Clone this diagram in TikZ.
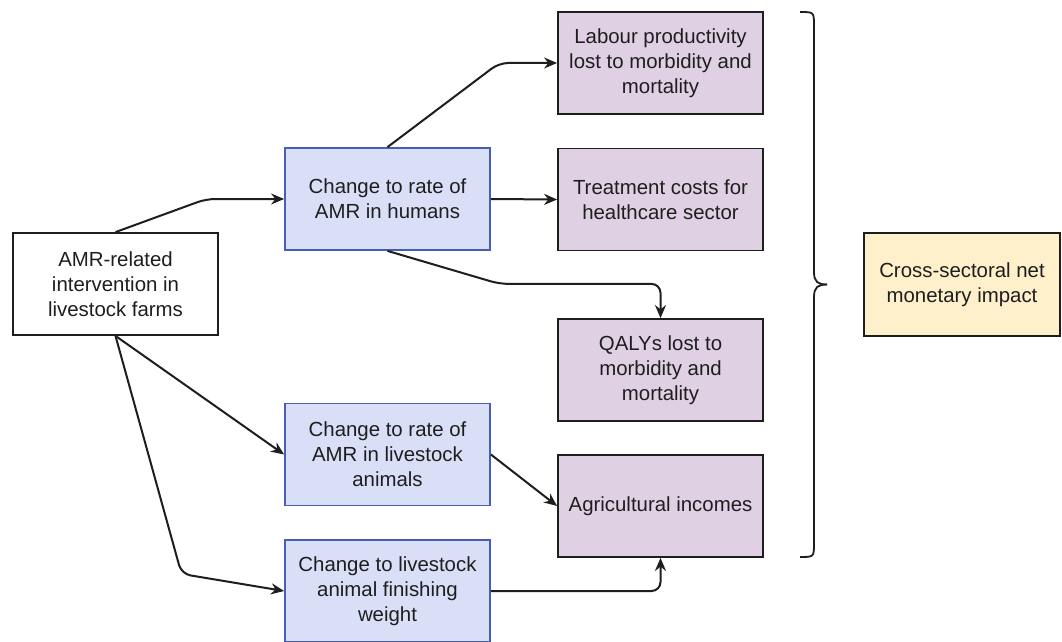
\documentclass[tikz,border=0pt]{standalone}
\usepackage{fontspec}
\setmainfont{Liberation Sans}
\usetikzlibrary{arrows.meta,calc}
\definecolor{blueFill}{RGB}{218,223,248}
\definecolor{blueLine}{RGB}{72,94,178}
\definecolor{purpleFill}{RGB}{223,208,228}
\definecolor{yellowFill}{RGB}{255,240,204}
\definecolor{inkGray}{RGB}{30,30,30}
\begin{document}
\begin{tikzpicture}[x=1pt,y=-1pt,
  box/.style={draw, line width=1.8pt, minimum width=205pt, minimum height=102pt,
    align=center, inner sep=0pt, font=\fontsize{20.4}{25}\selectfont, text=inkGray},
  startbox/.style={box, draw=inkGray, fill=white},
  bluebox/.style={box, draw=blueLine, fill=blueFill},
  purplebox/.style={box, draw=inkGray, fill=purpleFill},
  yellowbox/.style={box, draw=inkGray, fill=yellowFill, minimum width=196pt, minimum height=103pt},
  conn/.style={draw=inkGray, line width=2pt, rounded corners=9pt,
    -{Stealth[length=13pt,width=11pt]}},
  bracestyle/.style={draw=inkGray, line width=1.8pt}
]
\fill[white] (0,0) rectangle (1062,642);
\useasboundingbox (0,0) rectangle (1062,642);

\node[startbox] (amr) at (115.5,284) {AMR-related\\intervention in\\livestock farms};
\node[bluebox] (hum) at (387.5,199) {Change to rate of\\AMR in humans};
\node[bluebox] (live) at (387.5,454.5) {Change to rate of\\AMR in livestock\\animals};
\node[bluebox] (fin) at (387.5,591) {Change to livestock\\animal finishing\\weight};
\node[purplebox] (lab) at (660.5,63) {Labour productivity\\lost to morbidity and\\mortality};
\node[purplebox] (trt) at (660.5,199.5) {Treatment costs for\\healthcare sector};
\node[purplebox] (qaly) at (660.5,370) {QALYs lost to\\morbidity and\\mortality};
\node[purplebox] (agri) at (660.5,506) {Agricultural incomes};
\node[yellowbox] (cross) at (962,284.5) {Cross-sectoral net\\monetary impact};

\draw[conn] (amr.north) -- ([xshift=-78pt]hum.west) -- (hum.west);
\draw[conn] (hum.north) -- ([xshift=-58pt]lab.west) -- (lab.west);
\draw[conn] (hum.east) -- (trt.west);
\draw[conn] (hum.south) -- ++(112,33) -| (qaly.north);
\draw[conn] (amr.south) -- (live.west);
\draw[conn] (amr.south) -- ++(66,238) -- (fin.west);
\draw[conn] (live.east) -- (agri.west);
\draw[conn] (fin.east) -| (agri.south);

\coordinate (bTop) at (800,12);
\coordinate (bBot) at (800,557);
\coordinate (bTip) at (827,284.5);
\draw[bracestyle] (bTop) .. controls (814,12) .. (814,26) -- (814,272)
  .. controls (814,282) and (818,284.5) .. (bTip);
\draw[bracestyle] (bBot) .. controls (814,557) .. (814,543) -- (814,297)
  .. controls (814,287) and (818,284.5) .. (bTip);
\end{tikzpicture}
\end{document}
